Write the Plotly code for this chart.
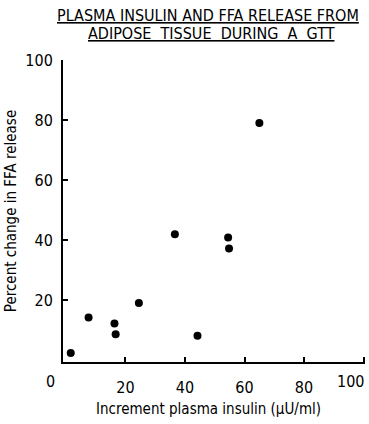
import plotly.graph_objects as go

# Data
insulin_increment = [1.6, 7.6, 16.3, 16.7, 24.5, 36.6, 44.2, 54.5, 54.8, 65.0]
ffa_change = [2.5, 14.3, 12.3, 8.7, 19.1, 42.0, 8.2, 40.9, 37.3, 79.0]
x_ticks = [20, 40, 60, 80, 100]
x_tick_text = ["20", "40", "60", "80", ""]
y_ticks = [20, 40, 60, 80, 100]

FONT = "DejaVu Sans Condensed, DejaVu Sans, sans-serif"

fig = go.Figure()
fig.add_trace(go.Scatter(
    x=insulin_increment, y=ffa_change, mode="markers",
    marker=dict(color="black", size=8),
    showlegend=False, hoverinfo="skip"))

fig.update_layout(
    width=369, height=424,
    margin=dict(l=63, r=4, t=60, b=62, autoexpand=False),
    paper_bgcolor="white", plot_bgcolor="white",
    font=dict(family=FONT, color="black", size=16),
    xaxis=dict(
        range=[-1, 100.5], tickvals=x_ticks, ticktext=x_tick_text,
        ticks="inside", ticklen=5, automargin=False,
        tickwidth=1.5, tickcolor="black", showline=True, linecolor="black",
        linewidth=2, showgrid=False, zeroline=False,
        tickfont=dict(size=16), ticklabelstandoff=10),
    yaxis=dict(
        range=[-0.5, 100], tickvals=y_ticks, ticks="inside", ticklen=5,
        automargin=False,
        tickwidth=1.5, tickcolor="black", showline=True, linecolor="black",
        linewidth=2, showgrid=False, zeroline=False,
        tickfont=dict(size=16), ticklabelstandoff=5,
        title=dict(text="Percent change in FFA release", font=dict(size=15), standoff=5)),
)

fig.add_annotation(x=0.5, y=1, xref="paper", yref="paper",
                   text="<u>PLASMA INSULIN AND FFA RELEASE FROM</u>",
                   showarrow=False, xanchor="center", yanchor="middle",
                   xshift=-6, yshift=45, font=dict(size=16))
fig.add_annotation(x=0.5, y=1, xref="paper", yref="paper",
                   text="<u>ADIPOSE  TISSUE  DURING  A  GTT</u>",
                   showarrow=False, xanchor="center", yanchor="middle",
                   xshift=-3, yshift=27, font=dict(size=16))
fig.add_annotation(x=0.5, y=0, xref="paper", yref="paper",
                   text="Increment plasma insulin (µU/ml)",
                   showarrow=False, xanchor="center", yanchor="middle",
                   xshift=-6, yshift=-47, font=dict(size=15))
fig.add_annotation(x=0, y=0, xref="x", yref="y", text="0", showarrow=False,
                   xshift=-15, yshift=-21, font=dict(size=16))
fig.add_annotation(x=100, y=0, xref="x", yref="y", text="100", showarrow=False,
                   xanchor="right", xshift=2, yshift=-21, font=dict(size=16))

# remove the default page margin so the figure fills the 369x424 window
fig.write_html(
    "out.html",
    config={"displayModeBar": False},
    post_script="document.body.style.margin='0';"
                "document.documentElement.style.overflow='hidden';")
